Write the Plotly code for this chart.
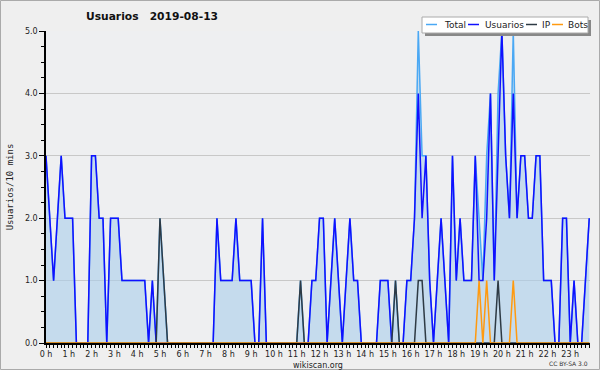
import plotly.graph_objects as go

# 10-minute slots, 0:00 .. 23:50
usuarios = [3, 2, 1, 2, 3, 2, 2, 2, 0, 0, 0, 0,
            3, 3, 2, 2, 0, 2, 2, 2, 1, 1, 1, 1,
            1, 1, 1, 0, 1, 0, 0, 0, 0, 0, 0, 0,
            0, 0, 0, 0, 0, 0, 0, 0, 0, 2, 1, 1,
            1, 1, 2, 1, 1, 1, 1, 0, 0, 2, 0, 0,
            0, 0, 0, 0, 0, 0, 0, 0, 0, 0, 1, 1,
            2, 2, 0, 1, 2, 1, 0, 1, 2, 1, 1, 0,
            0, 0, 0, 0, 1, 1, 1, 0, 0, 0, 0, 1,
            1, 2, 4, 2, 3, 1, 0, 1, 2, 1, 0, 3,
            1, 2, 1, 1, 1, 3, 1, 1, 2, 4, 1, 3,
            5, 3, 2, 4, 2, 3, 3, 2, 2, 3, 3, 1,
            1, 1, 0, 0, 2, 2, 0, 1, 0, 0, 1, 2]
ip_slots = [30, 31, 67, 92, 98, 99, 119]
ip_vals = [2, 1, 1, 1, 1, 1, 1]
bot_slots = [114, 116, 123]
bot_vals = [1, 1, 1]

ip = [0] * 144
for k, v in zip(ip_slots, ip_vals):
    ip[k] = v
bots = [0] * 144
for k, v in zip(bot_slots, bot_vals):
    bots[k] = v
total = [u + i + b for u, i, b in zip(usuarios, ip, bots)]

slots = list(range(144))
hour_ticks = list(range(0, 144, 6))
hour_labels = [f"{h} h" for h in range(24)]

series_names = ["Total", "Usuarios", "IP", "Bots"]
series_colors = ["#4aa8f4", "#1010ff", "#2e3a44", "#ff9a10"]

font = "DejaVu Sans"
fig = go.Figure()
fig.add_trace(go.Scatter(x=slots, y=total, name="Total", mode="lines",
                         line=dict(color=series_colors[0], width=1.5),
                         fill="tozeroy", fillcolor="rgba(170,205,235,0.6)"))
fig.add_trace(go.Scatter(x=slots, y=usuarios, name="Usuarios", mode="lines",
                         line=dict(color=series_colors[1], width=1.5)))
fig.add_trace(go.Scatter(x=slots, y=ip, name="IP", mode="lines",
                         line=dict(color=series_colors[2], width=1.5)))
fig.add_trace(go.Scatter(x=slots, y=bots, name="Bots", mode="lines",
                         line=dict(color=series_colors[3], width=1.5)))

W, H = 600, 370
L, R, T, B = 46, 10, 31, 27
pw, ph = W - L - R, H - T - B


def px(x):
    return (x - L) / pw


def py(y):
    return (H - B - y) / ph


fig.update_layout(
    width=W, height=H,
    margin=dict(l=L, r=R, t=T, b=B),
    paper_bgcolor="#efefef",
    plot_bgcolor="#eeeff1",
    font=dict(family=font, size=8, color="#222"),
    title=dict(text="Usuarios\u00a0\u00a0 2019-08-13", x=86 / W, xanchor="left",
               y=1 - 16 / H, yanchor="middle", yref="container",
               pad=dict(l=0, r=0, t=0, b=0),
               font=dict(family=font, size=10.7, color="#111", weight="bold")),
    showlegend=False,
    xaxis=dict(range=[0, 143.2], tickvals=hour_ticks, ticktext=hour_labels, tickangle=0,
               automargin=False,
               showgrid=False, zeroline=False, showline=True, linecolor="black", linewidth=1.5,
               ticks="outside", ticklen=3, tickcolor="black", tickwidth=1,
               minor=dict(dtick=1, ticks="outside", ticklen=3, tickcolor="black", tickwidth=1),
               tickfont=dict(size=8), fixedrange=True,
               title=dict(text="wikiscan.org", font=dict(size=8), standoff=5)),
    yaxis=dict(range=[0, 5], dtick=1, tickformat=".1f", automargin=False,
               showgrid=True, gridcolor="#c8c8c8", gridwidth=1,
               zeroline=False, showline=True, linecolor="black", linewidth=1.5,
               ticks="outside", ticklen=5, tickcolor="black", tickwidth=1,
               minor=dict(dtick=0.25, ticks="outside", ticklen=3, tickcolor="black", tickwidth=1),
               tickfont=dict(size=8), fixedrange=True,
               title=dict(text="Usuarios/10 mins", font=dict(family="DejaVu Sans Mono", size=9),
                          standoff=10)),
)
fig.add_annotation(text="CC BY-SA 3.0", xref="paper", yref="paper",
                   x=px(590), y=py(363.5), xanchor="right", yanchor="middle",
                   showarrow=False, font=dict(size=6, color="#333"))
# outer border
fig.add_shape(type="rect", xref="paper", yref="paper",
              x0=px(0.5), x1=px(W - 0.5), y0=py(H - 0.5), y1=py(0.5),
              line=dict(color="#aaaaaa", width=1), layer="below")

# legend box with shadow
fig.add_shape(type="rect", xref="paper", yref="paper",
              x0=px(425), x1=px(591), y0=py(36), y1=py(20),
              line=dict(width=0), fillcolor="#888888", layer="above")
fig.add_shape(type="rect", xref="paper", yref="paper",
              x0=px(422), x1=px(588), y0=py(33), y1=py(17),
              line=dict(color="#aaaaaa", width=1), fillcolor="white", layer="above")
line_x = [426, 468, 526, 552]
text_x = [443, 484, 541, 567]
for name, col, lx, tx in zip(series_names, series_colors, line_x, text_x):
    fig.add_shape(type="line", xref="paper", yref="paper",
                  x0=px(lx), x1=px(lx + 11), y0=py(24.5), y1=py(24.5),
                  line=dict(color=col, width=1.5), layer="above")
    fig.add_annotation(text=name, xref="paper", yref="paper", x=px(tx), y=py(24.5),
                       xanchor="left", yanchor="middle", showarrow=False,
                       xshift=-1, font=dict(size=9, color="#222"))
fig.write_html("out.html", config={"displayModeBar": False},
               post_script="document.body.style.margin='0';document.body.style.overflow='hidden';")
